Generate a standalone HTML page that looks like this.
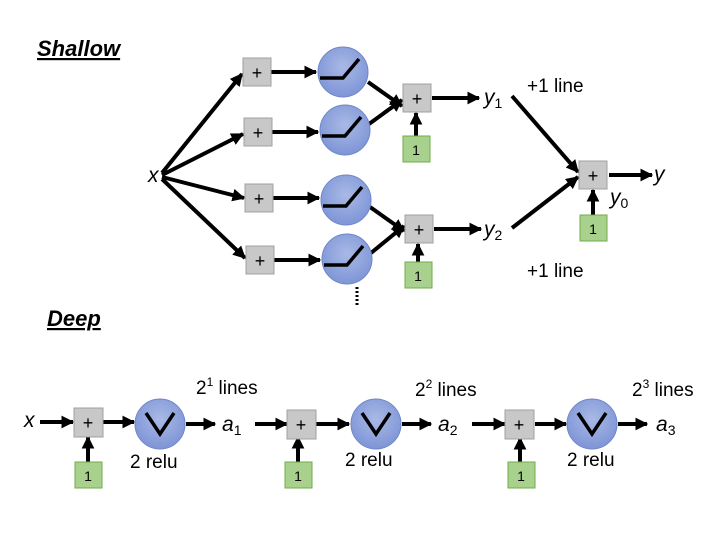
<!DOCTYPE html>
<html><head><meta charset="utf-8"><style>
html,body{margin:0;padding:0;background:#fff;}
svg{display:block;}
text{font-family:"Liberation Sans",sans-serif;fill:#000;}
.m{font-family:"Liberation Serif",serif;font-style:italic;}
</style></head><body>
<svg width="720" height="540" viewBox="0 0 720 540" xmlns="http://www.w3.org/2000/svg">
<defs>
<marker id="a" viewBox="0 0 10 10" refX="9" refY="5" markerWidth="3.2" markerHeight="3.2" orient="auto"><path d="M0,0 L10,5 L0,10 z" fill="#000"/></marker>
<radialGradient id="g" cx="50%" cy="40%" r="60%"><stop offset="0" stop-color="#a9b9e6"/><stop offset="1" stop-color="#7e95d6"/></radialGradient>
</defs>
<g stroke="#000" stroke-width="4" fill="none" marker-end="url(#a)">
<line x1="162" y1="173" x2="242" y2="74"/>
<line x1="162" y1="175" x2="243" y2="134"/>
<line x1="162" y1="177" x2="244" y2="198"/>
<line x1="162" y1="179" x2="245" y2="258"/>
<line x1="271" y1="72" x2="316" y2="72"/>
<line x1="272" y1="132" x2="318" y2="132"/>
<line x1="273" y1="198" x2="319" y2="198"/>
<line x1="274" y1="260" x2="320" y2="260"/>
<line x1="368" y1="82" x2="402" y2="106"/>
<line x1="369" y1="124" x2="402" y2="100"/>
<line x1="370" y1="207" x2="404" y2="231"/>
<line x1="371" y1="253" x2="404" y2="226"/>
<line x1="416" y1="159" x2="416" y2="113"/>
<line x1="418" y1="284" x2="418" y2="244"/>
<line x1="432" y1="98" x2="479" y2="98"/>
<line x1="434" y1="229" x2="481" y2="229"/>
<line x1="512" y1="96" x2="578" y2="172"/>
<line x1="512" y1="228" x2="578" y2="177"/>
<line x1="593" y1="215" x2="593" y2="190"/>
<line x1="609" y1="175" x2="652" y2="175"/>
<line x1="40" y1="422" x2="73" y2="422"/>
<line x1="88" y1="462" x2="88" y2="437"/>
<line x1="103" y1="422" x2="134" y2="422"/>
<line x1="186" y1="424" x2="215" y2="424"/>
<line x1="255" y1="424" x2="287" y2="424"/>
<line x1="298" y1="462" x2="298" y2="437"/>
<line x1="316" y1="424" x2="349" y2="424"/>
<line x1="402" y1="424" x2="431" y2="424"/>
<line x1="472" y1="424" x2="505" y2="424"/>
<line x1="520" y1="462" x2="520" y2="438"/>
<line x1="535" y1="424" x2="566" y2="424"/>
<line x1="618" y1="424" x2="647" y2="424"/>
</g>
<g fill="#c8c8c8" stroke="#a0a0a0" stroke-width="1">
<rect x="243" y="58" width="28" height="28"/>
<rect x="244" y="118" width="28" height="28"/>
<rect x="245" y="184" width="28" height="28"/>
<rect x="246" y="246" width="28" height="28"/>
<rect x="403" y="84" width="28" height="28"/>
<rect x="405" y="215" width="28" height="28"/>
<rect x="579" y="161" width="28" height="28"/>
<rect x="74" y="408" width="29" height="29"/>
<rect x="287" y="410" width="29" height="29"/>
<rect x="505" y="410" width="29" height="29"/>
</g>
<g fill="#a9d18e" stroke="#70ad47" stroke-width="1">
<rect x="403" y="136" width="27" height="26"/>
<rect x="405" y="262" width="27" height="26"/>
<rect x="580" y="215" width="27" height="26"/>
<rect x="75" y="462" width="27" height="26"/>
<rect x="285" y="462" width="27" height="26"/>
<rect x="508" y="462" width="27" height="26"/>
</g>
<g fill="url(#g)" stroke="#6f86c8" stroke-width="1">
<circle cx="343" cy="72" r="25"/>
<circle cx="345" cy="130" r="25"/>
<circle cx="346" cy="200" r="25"/>
<circle cx="347" cy="259" r="25"/>
<circle cx="160" cy="424" r="25"/>
<circle cx="376" cy="424" r="25"/>
<circle cx="592" cy="424" r="25"/>
</g>
<g stroke="#000" stroke-width="3.5" fill="none">
<path d="M320,78 H343 L359,59"/>
<path d="M322,136 H345 L361,117"/>
<path d="M323,206 H346 L362,187"/>
<path d="M324,265 H347 L363,246"/>
<path d="M146,413 L160,434 L174,413"/>
<path d="M362,413 L376,434 L390,413"/>
<path d="M578,413 L592,434 L606,413"/>
<line x1="357" y1="287" x2="357" y2="306" stroke-width="3" stroke-dasharray="2,2"/>
</g>
<g font-size="18" text-anchor="middle">
<text x="257" y="79">+</text><text x="258" y="139">+</text><text x="259" y="205">+</text><text x="260" y="267">+</text>
<text x="417" y="105">+</text><text x="419" y="236">+</text><text x="593" y="182">+</text>
<text x="88" y="429">+</text><text x="301" y="431">+</text><text x="519" y="431">+</text>
</g>
<g font-size="14" text-anchor="middle">
<text x="416" y="155">1</text><text x="418" y="281">1</text><text x="593" y="234">1</text>
<text x="88" y="481">1</text><text x="298" y="481">1</text><text x="521" y="481">1</text>
</g>
<g class="m" font-size="21">
<text x="148" y="182">x</text>
<text x="484" y="104">y<tspan font-size="14" dy="4" font-style="normal">1</tspan></text>
<text x="484" y="236">y<tspan font-size="14" dy="4" font-style="normal">2</tspan></text>
<text x="610" y="204">y<tspan font-size="14" dy="4" font-style="normal">0</tspan></text>
<text x="654" y="181">y</text>
<text x="24" y="427">x</text>
<text x="222" y="431">a<tspan font-size="14" dy="4" font-style="normal">1</tspan></text>
<text x="438" y="431">a<tspan font-size="14" dy="4" font-style="normal">2</tspan></text>
<text x="656" y="431">a<tspan font-size="14" dy="4" font-style="normal">3</tspan></text>
</g>
<g font-size="19">
<text x="527" y="92">+1 line</text>
<text x="527" y="277">+1 line</text>
<text x="130" y="468">2 relu</text>
<text x="345" y="466">2 relu</text>
<text x="567" y="466">2 relu</text>
<text x="196" y="394">2<tspan font-size="12" dy="-8">1</tspan><tspan dy="8"> lines</tspan></text>
<text x="415" y="396">2<tspan font-size="12" dy="-8">2</tspan><tspan dy="8"> lines</tspan></text>
<text x="632" y="396">2<tspan font-size="12" dy="-8">3</tspan><tspan dy="8"> lines</tspan></text>
</g>
<g font-size="22" font-weight="bold" font-style="italic" text-decoration="underline">
<text x="37" y="56">Shallow</text>
<text x="47" y="326">Deep</text>
</g>
</svg>
</body></html>
